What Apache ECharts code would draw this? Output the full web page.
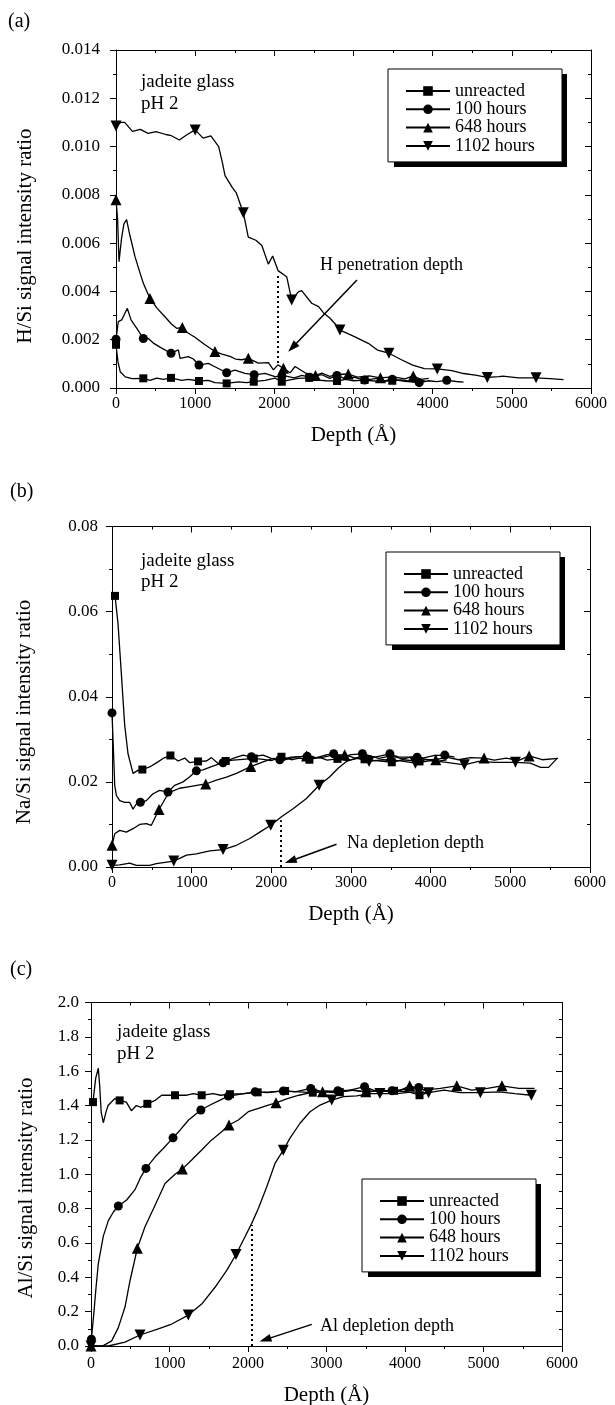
<!DOCTYPE html>
<html>
<head>
<meta charset="utf-8">
<script src="https://cdn.jsdelivr.net/npm/echarts@6/dist/echarts.min.js"></script>
<style>
html, body { margin: 0; padding: 0; background: #fff; }
#chart { width: 615px; height: 1405px; }
</style>
</head>
<body>
<div id="chart"></div>
<script>
var seriesNames = ['unreacted', '100 hours', '648 hours', '1102 hours'];
var depthTicks = [0, 6000, 1000];

// (a) H/Si
var hUnreacted = [[0,0.00179],[25,0.00108],[55,0.00066],[118,0.00046],[202,0.00039],[345,0.00040],[430,0.00032],[514,0.00041],[600,0.00036],[695,0.00042],[830,0.00032],[914,0.00036],[1048,0.00029],[1166,0.00032],[1250,0.00022],[1398,0.00019],[1545,0.00025],[1650,0.00022],[1735,0.00026],[1882,0.00032],[2009,0.00041],[2094,0.00026],[2200,0.00034],[2300,0.00040],[2440,0.00042],[2560,0.00033],[2650,0.00030],[2792,0.00029],[2900,0.00036],[3000,0.00030],[3140,0.00033],[3300,0.00028],[3490,0.00030],[3600,0.00034],[3750,0.00026],[3900,0.00030]];
var hUnreactedMarks = [[0,0.00179],[345,0.00040],[695,0.00042],[1048,0.00029],[1398,0.00019],[1740,0.00026],[2094,0.00026],[2440,0.00042],[2792,0.00029],[3140,0.00033],[3490,0.00030]];
var h100 = [[0,0.00202],[29,0.00275],[72,0.00282],[143,0.0033],[190,0.00282],[261,0.00248],[345,0.00205],[408,0.00205],[472,0.00186],[577,0.00165],[695,0.00144],[788,0.00158],[809,0.00123],[914,0.0013],[977,0.0012],[1048,0.00095],[1166,0.00102],[1250,0.00088],[1398,0.00063],[1503,0.00074],[1629,0.00061],[1756,0.00054],[1882,0.00061],[2009,0.00047],[2136,0.0005],[2250,0.00042],[2350,0.00052],[2445,0.00045],[2600,0.00055],[2700,0.0004],[2790,0.00052],[2900,0.00038],[3000,0.00045],[3140,0.00033],[3300,0.0004],[3400,0.0003],[3490,0.00036],[3650,0.00028],[3830,0.00022],[3950,0.0003],[4050,0.00026],[4178,0.00032],[4300,0.00027],[4390,0.00024]];
var h100Marks = [[0,0.00202],[345,0.00205],[695,0.00144],[1048,0.00095],[1398,0.00063],[1745,0.00055],[2095,0.0005],[2445,0.00045],[2790,0.00052],[3140,0.00033],[3490,0.00036],[3830,0.00022],[4178,0.00032]];
var h648 = [[0,0.0078],[20,0.007],[38,0.00523],[70,0.0062],[100,0.0068],[134,0.00697],[170,0.0064],[240,0.00544],[300,0.0048],[345,0.00434],[429,0.00371],[520,0.0033],[615,0.00296],[700,0.00265],[766,0.00247],[838,0.00251],[900,0.0023],[997,0.0021],[1124,0.00179],[1250,0.00151],[1340,0.0014],[1440,0.00131],[1510,0.0012],[1587,0.00117],[1671,0.00123],[1798,0.00103],[1925,0.00105],[1989,0.00075],[2044,0.00096],[2115,0.00082],[2199,0.00063],[2262,0.00089],[2388,0.00063],[2520,0.00052],[2600,0.00062],[2700,0.00048],[2800,0.00056],[2934,0.00058],[3050,0.00045],[3200,0.0005],[3340,0.00042],[3500,0.00046],[3650,0.00038],[3755,0.0005],[3850,0.00036],[3950,0.0004]];
var h648Marks = [[0,0.0078],[429,0.00371],[838,0.00251],[1250,0.00151],[1671,0.00123],[2115,0.00082],[2520,0.00052],[2934,0.00058],[3340,0.00042],[3755,0.0005]];
var h1102 = [[0,0.01085],[60,0.011],[109,0.011],[208,0.01063],[307,0.01071],[406,0.01055],[505,0.01062],[629,0.0105],[700,0.01045],[800,0.01027],[900,0.0105],[1000,0.01069],[1100,0.01035],[1198,0.01044],[1297,0.01],[1346,0.0093],[1377,0.0088],[1470,0.0083],[1520,0.00808],[1608,0.00726],[1671,0.00625],[1767,0.00612],[1842,0.0059],[1924,0.00513],[1979,0.00547],[2050,0.00485],[2156,0.00461],[2219,0.00365],[2303,0.00398],[2345,0.00403],[2472,0.00351],[2559,0.00337],[2619,0.00312],[2700,0.0029],[2782,0.00261],[2829,0.0024],[2950,0.00222],[3018,0.00212],[3187,0.00185],[3302,0.00157],[3448,0.00144],[3599,0.00118],[3747,0.00095],[3896,0.0008],[4058,0.00079],[4242,0.00072],[4391,0.0006],[4539,0.00053],[4690,0.00044],[4838,0.00047],[4886,0.00049],[5084,0.00042],[5306,0.00042],[5480,0.00039],[5653,0.00035]];
var h1102Marks = [[0,0.01085],[1000,0.01069],[1608,0.00726],[2219,0.00365],[2829,0.0024],[3448,0.00144],[4058,0.00079],[4690,0.00044],[5306,0.00042]];
var hDotted = [[2042,0.00104],[2042,0.0047]];
var hArrow = [[3044,0.00447],[2228,0.00168]];

// (b) Na/Si
var naUnreacted = [[38,0.0637],[75,0.0573],[117,0.0455],[159,0.0334],[201,0.0266],[264,0.022],[326,0.0227],[381,0.0229],[473,0.0235],[577,0.0247],[641,0.0255],[733,0.0262],[830,0.0249],[913,0.0256],[976,0.0245],[1080,0.0248],[1185,0.0249],[1248,0.0257],[1332,0.0243],[1428,0.0249],[1520,0.0251],[1645,0.0253],[1780,0.0255],[1897,0.0253],[2000,0.025],[2127,0.0259],[2250,0.0252],[2350,0.0256],[2478,0.0252],[2600,0.0258],[2700,0.0251],[2830,0.0254],[2950,0.025],[3100,0.0256],[3170,0.0253],[3400,0.0248],[3512,0.0246],[3650,0.0252],[3860,0.0248],[3950,0.0253],[4100,0.0249],[4200,0.0252]];
var naUnreactedMarks = [[38,0.0637],[381,0.0229],[733,0.0262],[1080,0.0248],[1428,0.0249],[1780,0.0255],[2127,0.0259],[2478,0.0252],[2830,0.0254],[3170,0.0253],[3512,0.0246],[3860,0.0248]];
var na100 = [[0,0.0362],[21,0.0259],[34,0.0192],[55,0.0168],[97,0.0156],[159,0.0152],[222,0.0152],[264,0.0136],[305,0.0148],[356,0.0152],[431,0.0156],[515,0.0172],[598,0.018],[703,0.0176],[787,0.0192],[892,0.02],[976,0.0212],[1059,0.0226],[1143,0.0228],[1248,0.0236],[1311,0.024],[1394,0.0245],[1520,0.0255],[1645,0.0263],[1750,0.0259],[1897,0.0263],[2000,0.0255],[2106,0.0252],[2250,0.0258],[2450,0.026],[2550,0.0256],[2700,0.0264],[2783,0.0266],[2900,0.0258],[3000,0.0264],[3143,0.0266],[3300,0.0258],[3488,0.0266],[3600,0.0258],[3830,0.0258],[3900,0.0256],[4050,0.0262],[4177,0.0263],[4300,0.0258]];
var na100Marks = [[0,0.0362],[356,0.0152],[703,0.0176],[1059,0.0226],[1394,0.0245],[1750,0.0259],[2106,0.0252],[2450,0.026],[2783,0.0266],[3143,0.0266],[3488,0.0266],[3830,0.0258],[4177,0.0263]];
var na648 = [[0,0.0051],[34,0.0078],[97,0.0086],[180,0.0082],[264,0.009],[347,0.01],[431,0.0102],[494,0.0098],[590,0.0135],[682,0.0165],[745,0.0177],[849,0.0185],[976,0.0189],[1101,0.0193],[1177,0.0195],[1311,0.0204],[1436,0.0211],[1562,0.022],[1742,0.0236],[1897,0.0247],[2022,0.0255],[2190,0.0253],[2300,0.0258],[2443,0.0261],[2600,0.0256],[2750,0.0262],[2921,0.0264],[3050,0.0256],[3200,0.0263],[3350,0.0255],[3500,0.0261],[3650,0.0254],[3800,0.026],[3950,0.0252],[4064,0.0252],[4200,0.0258],[4350,0.0252],[4500,0.0257],[4670,0.0256],[4800,0.0251],[4950,0.0256],[5100,0.025],[5236,0.0261],[5400,0.0252],[5600,0.0255]];
var na648Marks = [[0,0.0051],[590,0.0135],[1177,0.0195],[1742,0.0236],[2443,0.0261],[2921,0.0264],[3500,0.0261],[4064,0.0252],[4670,0.0256],[5236,0.0261]];
var na1102 = [[0,0.0004],[97,0.0005],[222,0.0009],[305,0.0004],[473,0.0004],[557,0.0008],[775,0.0014],[935,0.0028],[1059,0.0031],[1227,0.0038],[1394,0.0041],[1562,0.0051],[1730,0.0067],[1855,0.0082],[1993,0.0098],[2127,0.0118],[2273,0.0137],[2441,0.0161],[2600,0.0192],[2734,0.0212],[2838,0.0232],[2943,0.0248],[3068,0.0256],[3227,0.0248],[3400,0.0252],[3600,0.025],[3808,0.0244],[4000,0.025],[4200,0.0246],[4423,0.024],[4600,0.0248],[4800,0.0246],[5064,0.0246],[5250,0.0244],[5380,0.0234],[5480,0.0234],[5581,0.0254]];
var na1102Marks = [[0,0.0004],[775,0.0014],[1394,0.0041],[1993,0.0098],[2600,0.0192],[3227,0.0248],[3808,0.0244],[4423,0.024],[5064,0.0246]];
var naDotted = [[2119,0],[2119,0.011]];
var naArrow = [[2818,0.00534],[2240,0.00141]];

// (c) Al/Si
var alUnreacted = [[25,1.42],[60,1.56],[93,1.617],[110,1.52],[130,1.36],[157,1.3],[190,1.36],[217,1.4],[301,1.44],[365,1.43],[450,1.42],[514,1.37],[578,1.4],[640,1.39],[718,1.41],[816,1.43],[900,1.46],[1070,1.46],[1219,1.46],[1304,1.47],[1410,1.46],[1558,1.47],[1650,1.46],[1771,1.466],[1941,1.47],[2123,1.477],[2280,1.48],[2472,1.485],[2650,1.48],[2825,1.475],[3000,1.485],[3170,1.478],[3350,1.49],[3510,1.478],[3700,1.488],[3860,1.486],[4050,1.48],[4185,1.46],[4300,1.475]];
var alUnreactedMarks = [[25,1.42],[365,1.43],[718,1.41],[1070,1.46],[1410,1.46],[1771,1.466],[2123,1.477],[2472,1.485],[2825,1.475],[3170,1.478],[3510,1.478],[3860,1.486],[4185,1.46]];
var al100 = [[5,0.04],[34,0.18],[64,0.34],[93,0.48],[157,0.64],[221,0.73],[285,0.78],[348,0.815],[454,0.85],[560,0.91],[630,0.98],[700,1.034],[815,1.1],[920,1.15],[1045,1.212],[1137,1.258],[1243,1.316],[1400,1.374],[1517,1.403],[1644,1.432],[1750,1.455],[1950,1.47],[2090,1.48],[2250,1.475],[2450,1.485],[2600,1.48],[2800,1.5],[2950,1.48],[3145,1.486],[3300,1.49],[3485,1.51],[3650,1.48],[3835,1.486],[4000,1.495],[4175,1.505],[4300,1.48]];
var al100Marks = [[5,0.04],[348,0.815],[700,1.034],[1045,1.212],[1400,1.374],[1750,1.455],[2090,1.48],[2450,1.485],[2800,1.5],[3145,1.486],[3485,1.51],[3835,1.486],[4175,1.505]];
var al648 = [[0,0],[157,0.002],[263,0.03],[348,0.107],[433,0.227],[497,0.38],[590,0.569],[688,0.694],[816,0.82],[943,0.946],[1070,1.0],[1163,1.03],[1282,1.083],[1410,1.141],[1537,1.2],[1665,1.248],[1758,1.287],[1877,1.316],[2004,1.364],[2132,1.383],[2259,1.403],[2357,1.416],[2500,1.44],[2650,1.46],[2800,1.475],[2950,1.48],[3100,1.475],[3300,1.49],[3500,1.48],[3700,1.49],[3900,1.48],[4060,1.515],[4250,1.49],[4450,1.5],[4660,1.515],[4850,1.49],[5050,1.5],[5235,1.515],[5450,1.5],[5650,1.5]];
var al648Marks = [[0,0],[590,0.569],[1163,1.03],[1758,1.287],[2357,1.416],[2950,1.48],[3500,1.48],[4060,1.515],[4660,1.515],[5235,1.515]];
var al1102 = [[0,0],[221,0],[433,0.023],[624,0.064],[858,0.1],[1028,0.128],[1240,0.18],[1410,0.244],[1580,0.342],[1729,0.44],[1847,0.533],[1962,0.636],[2047,0.714],[2132,0.8],[2238,0.926],[2344,1.063],[2450,1.14],[2535,1.21],[2663,1.297],[2790,1.364],[2918,1.403],[3067,1.432],[3215,1.452],[3385,1.456],[3550,1.47],[3680,1.47],[3900,1.47],[4100,1.48],[4300,1.475],[4500,1.49],[4700,1.475],[4960,1.475],[5200,1.48],[5400,1.47],[5610,1.46]];
var al1102Marks = [[0,0],[624,0.064],[1240,0.18],[1847,0.533],[2450,1.14],[3067,1.432],[3680,1.47],[4300,1.475],[4960,1.475],[5610,1.46]];
var alDotted = [[2047,0],[2047,0.705]];
var alArrow = [[2813,0.126],[2219,0.037]];

var serif = 'Liberation Serif';
var symbols = ['rect', 'circle', 'triangle', 'triangle'];
var symbolRot = [0, 0, 0, 180];
var symbolSizes = [8, 9, 11, 11];

var panels = [
    {
        tag: '(a)', yName: 'H/Si signal intensity ratio', yMax: 0.014, yStep: 0.002, digits: 3,
        grid: {left: 116, top: 50, width: 475, height: 338},
        lines: [hUnreacted, h100, h648, h1102], marks: [hUnreactedMarks, h100Marks, h648Marks, h1102Marks],
        dotted: hDotted, arrow: hArrow, note: 'H penetration depth',
        yMargin: 16, xMargin: 8, nameGap: 37,
        legend: {left: 388, top: 69},
        tagPos: [8, 22], yNamePos: [25, 236], glass: [141, 82, 104], notePos: [320, 265]
    },
    {
        tag: '(b)', yName: 'Na/Si signal intensity ratio', yMax: 0.08, yStep: 0.02, digits: 2,
        grid: {left: 112, top: 526.5, width: 478, height: 340.5},
        lines: [naUnreacted, na100, na648, na1102], marks: [naUnreactedMarks, na100Marks, na648Marks, na1102Marks],
        dotted: naDotted, arrow: naArrow, note: 'Na depletion depth',
        yMargin: 14, xMargin: 8, nameGap: 37,
        legend: {left: 386, top: 552},
        tagPos: [10, 492], yNamePos: [24, 712], glass: [141, 561, 582], notePos: [347, 843]
    },
    {
        tag: '(c)', yName: 'Al/Si signal intensity ratio', yMax: 2.0, yStep: 0.2, digits: 1,
        grid: {left: 91, top: 1002.5, width: 471, height: 343.5},
        lines: [alUnreacted, al100, al648, al1102], marks: [alUnreactedMarks, al100Marks, al648Marks, al1102Marks],
        dotted: alDotted, arrow: alArrow, note: 'Al depletion depth',
        yMargin: 12, xMargin: 10, nameGap: 39,
        legend: {left: 362, top: 1179},
        tagPos: [10, 970], yNamePos: [26, 1188], glass: [117, 1032, 1054], notePos: [320, 1326]
    }
];

// legend box: fixed size so the offset shadow block can sit behind it
var legendBox = {w: 173, h: 93, shadowX: 6, shadowY: 5};

var black = '#000';
var grids = [], xAxes = [], yAxes = [], series = [], legends = [], graphics = [];

function txt(x, y, text, size, rot, align) {
    return {
        type: 'text', x: x, y: y, rotation: rot || 0, silent: true, z: 5,
        style: {
            text: text, fill: black, font: size + 'px "' + serif + '"',
            align: align || 'left', textAlign: align || 'left',
            verticalAlign: 'middle', textVerticalAlign: 'middle'
        }
    };
}

panels.forEach(function (p, i) {
    grids.push({left: p.grid.left, top: p.grid.top, width: p.grid.width, height: p.grid.height, outerBoundsMode: 'none'});

    var tickOut = {show: true, inside: false, length: 6, lineStyle: {color: black, width: 1}};
    var tickIn = {show: true, inside: true, length: 6, lineStyle: {color: black, width: 1}};
    var minor = {show: true, splitNumber: 2, length: 3, lineStyle: {color: black, width: 1}};
    var line = {show: true, onZero: false, lineStyle: {color: black, width: 1}};

    xAxes.push({
        type: 'value', gridIndex: i, min: depthTicks[0], max: depthTicks[1], interval: depthTicks[2],
        name: 'Depth (Å)', nameLocation: 'middle', nameGap: p.nameGap,
        nameTextStyle: {fontSize: 21, color: black, fontFamily: serif},
        axisLine: line, axisTick: tickOut, minorTick: minor,
        axisLabel: {
            margin: p.xMargin, fontSize: 16, color: black, fontFamily: serif,
            formatter: function (v) { return String(v); }
        },
        splitLine: {show: false}, minorSplitLine: {show: false}
    });
    xAxes.push({
        type: 'value', gridIndex: i, position: 'top', min: depthTicks[0], max: depthTicks[1], interval: depthTicks[2],
        axisLine: line, axisTick: tickIn, minorTick: minor,
        axisLabel: {show: false}, splitLine: {show: false}
    });
    yAxes.push({
        type: 'value', gridIndex: i, min: 0, max: p.yMax, interval: p.yStep,
        axisLine: line, axisTick: tickOut, minorTick: minor,
        axisLabel: {
            margin: p.yMargin, fontSize: 17, color: black, fontFamily: serif,
            formatter: function (v) { return v.toFixed(p.digits); }
        },
        splitLine: {show: false}
    });
    yAxes.push({
        type: 'value', gridIndex: i, position: 'right', min: 0, max: p.yMax, interval: p.yStep,
        axisLine: line, axisTick: tickIn, minorTick: minor,
        axisLabel: {show: false}, splitLine: {show: false}
    });

    for (var k = 0; k < 4; k++) {
        var s = {
            name: seriesNames[k], type: 'line', xAxisIndex: i * 2, yAxisIndex: i * 2,
            data: p.lines[k], symbol: symbols[k], symbolRotate: symbolRot[k], symbolSize: symbolSizes[k],
            showSymbol: false, lineStyle: {color: black, width: 1.3}, itemStyle: {color: black, opacity: 1},
            emphasis: {disabled: true}, z: 2
        };
        if (k === 3) {
            s.markLine = {
                silent: true, animation: false, symbol: ['none', 'none'],
                label: {show: false}, emphasis: {disabled: true},
                data: [
                    [{coord: p.dotted[0], lineStyle: {color: black, width: 2, type: [2, 3]}}, {coord: p.dotted[1]}],
                    [{coord: p.arrow[0], lineStyle: {color: black, width: 1.5, type: 'solid'}},
                     {coord: p.arrow[1], symbol: 'triangle', symbolSize: [8, 12]}]
                ]
            };
        }
        series.push(s);
        series.push({
            name: seriesNames[k], type: 'scatter', xAxisIndex: i * 2, yAxisIndex: i * 2,
            data: p.marks[k], symbol: symbols[k], symbolRotate: symbolRot[k], symbolSize: symbolSizes[k],
            itemStyle: {color: black, opacity: 1}, emphasis: {disabled: true}, z: 3
        });
    }

    legends.push({
        orient: 'vertical', left: p.legend.left, top: p.legend.top,
        data: seriesNames, selectedMode: false,
        itemWidth: 44, itemHeight: 12, itemGap: 0.3,
        padding: [13, 12, 7, 17],
        backgroundColor: '#fff', borderColor: black, borderWidth: 1,
        itemStyle: {opacity: 1},
        textStyle: {fontSize: 18, fontFamily: serif, color: black, lineHeight: 18, width: 95},
        z: 6
    });
    graphics.push({
        type: 'rect', silent: true, z: 5,
        shape: {x: p.legend.left + legendBox.shadowX, y: p.legend.top + legendBox.shadowY, width: legendBox.w, height: legendBox.h},
        style: {fill: black}
    });

    graphics.push(txt(p.tagPos[0], p.tagPos[1], p.tag, 20));
    graphics.push(txt(p.yNamePos[0], p.yNamePos[1], p.yName, 21, Math.PI / 2, 'center'));
    graphics.push(txt(p.glass[0], p.glass[1], 'jadeite glass', 19));
    graphics.push(txt(p.glass[0], p.glass[2], 'pH 2', 19));
    graphics.push(txt(p.notePos[0], p.notePos[1], p.note, 18));
});

var myChart = echarts.init(document.getElementById('chart'));
myChart.setOption({
    animation: false,
    backgroundColor: '#fff',
    textStyle: {fontFamily: serif},
    grid: grids,
    xAxis: xAxes,
    yAxis: yAxes,
    legend: legends,
    graphic: graphics,
    series: series
});
</script>
</body>
</html>
